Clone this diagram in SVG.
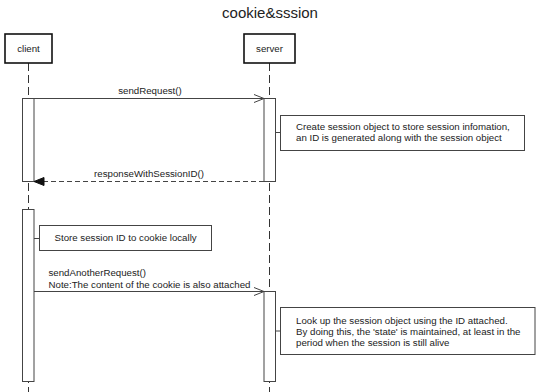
<svg xmlns="http://www.w3.org/2000/svg" width="540" height="392" viewBox="0 0 540 392">
<defs>
<style>
text{font-family:"Liberation Sans",Arial,sans-serif;fill:#222;}
.t{font-size:9.7px;}
.title{font-size:15px;}
.actor{fill:#fff;stroke:#111;stroke-width:1.6;}
.life{stroke:#333;stroke-width:1;stroke-dasharray:8,4;fill:none;}
.act{fill:#fff;stroke:#444;stroke-width:1;}
.note{fill:#fff;stroke:#444;stroke-width:1;}
.msg{stroke:#444;stroke-width:1;fill:none;}
.ret{stroke:#444;stroke-width:1;fill:none;stroke-dasharray:5,3;}
</style>
<marker id="open" markerWidth="12" markerHeight="10" refX="11" refY="5" orient="auto" markerUnits="userSpaceOnUse">
<path d="M1,1 L11,5 L1,9" fill="none" stroke="#444" stroke-width="1"/>
</marker>
<marker id="filled" markerWidth="12" markerHeight="10" refX="11" refY="5" orient="auto" markerUnits="userSpaceOnUse">
<path d="M1,1 L11,5 L1,9 Z" fill="#111" stroke="#111" stroke-width="1"/>
</marker>
</defs>
<rect width="540" height="392" fill="#fff"/>
<text class="title" x="270" y="18" text-anchor="middle">cookie&amp;sssion</text>

<g id="lifelines">
<line class="life" x1="28.5" y1="63" x2="28.5" y2="392"/>
<line class="life" x1="269.5" y1="63" x2="269.5" y2="392"/>
</g>

<g id="client">
<rect class="actor" x="5" y="34" width="47" height="29"/>
<text class="t" x="28.5" y="52" text-anchor="middle">client</text>
</g>
<g id="server">
<rect class="actor" x="244" y="34" width="51" height="29"/>
<text class="t" x="269.5" y="52" text-anchor="middle">server</text>
</g>

<g id="client-activation-1"><rect class="act" x="22.5" y="98.5" width="11.5" height="83"/></g>
<g id="server-activation-1"><rect class="act" x="264" y="98.5" width="11.5" height="83"/></g>
<g id="client-activation-2"><rect class="act" x="22.5" y="209.5" width="11.5" height="172"/></g>
<g id="server-activation-2"><rect class="act" x="264" y="291.5" width="11.5" height="90"/></g>

<g id="note-create">
<rect class="note" x="280.5" y="115.5" width="244" height="35"/>
<text class="t" x="296" y="130">Create session object to store session infomation,</text>
<text class="t" x="296" y="141">an ID is generated along with the session object</text>
</g>
<g id="note-store">
<rect class="note" x="39.5" y="225.5" width="172" height="25"/>
<text class="t" x="54.5" y="241">Store session ID to cookie locally</text>
</g>
<g id="note-lookup">
<rect class="note" x="280.5" y="307.5" width="254.5" height="47"/>
<text class="t" x="296" y="324">Look up the session object using the ID attached.</text>
<text class="t" x="296" y="335">By doing this, the 'state' is maintained, at least in the</text>
<text class="t" x="296" y="346">period when the session is still alive</text>
</g>

<g id="connectors">
<line class="msg" x1="34" y1="98.5" x2="264" y2="98.5" marker-end="url(#open)"/>
<line class="ret" x1="264" y1="181.5" x2="34" y2="181.5" marker-end="url(#filled)"/>
<line class="msg" x1="34" y1="291.5" x2="264" y2="291.5" marker-end="url(#open)"/>
<line class="msg" x1="275.5" y1="132.5" x2="280.5" y2="132.5"/>
<line class="msg" x1="34" y1="238.5" x2="39.5" y2="238.5"/>
<line class="msg" x1="275.5" y1="331" x2="280.5" y2="331"/>
<text class="t" x="150" y="94" text-anchor="middle">sendRequest()</text>
<text class="t" x="149" y="177" text-anchor="middle">responseWithSessionID()</text>
<text class="t" x="48.5" y="276">sendAnotherRequest()</text>
<text class="t" x="48.5" y="288">Note:The content of the cookie is also attached</text>
</g>
</svg>
